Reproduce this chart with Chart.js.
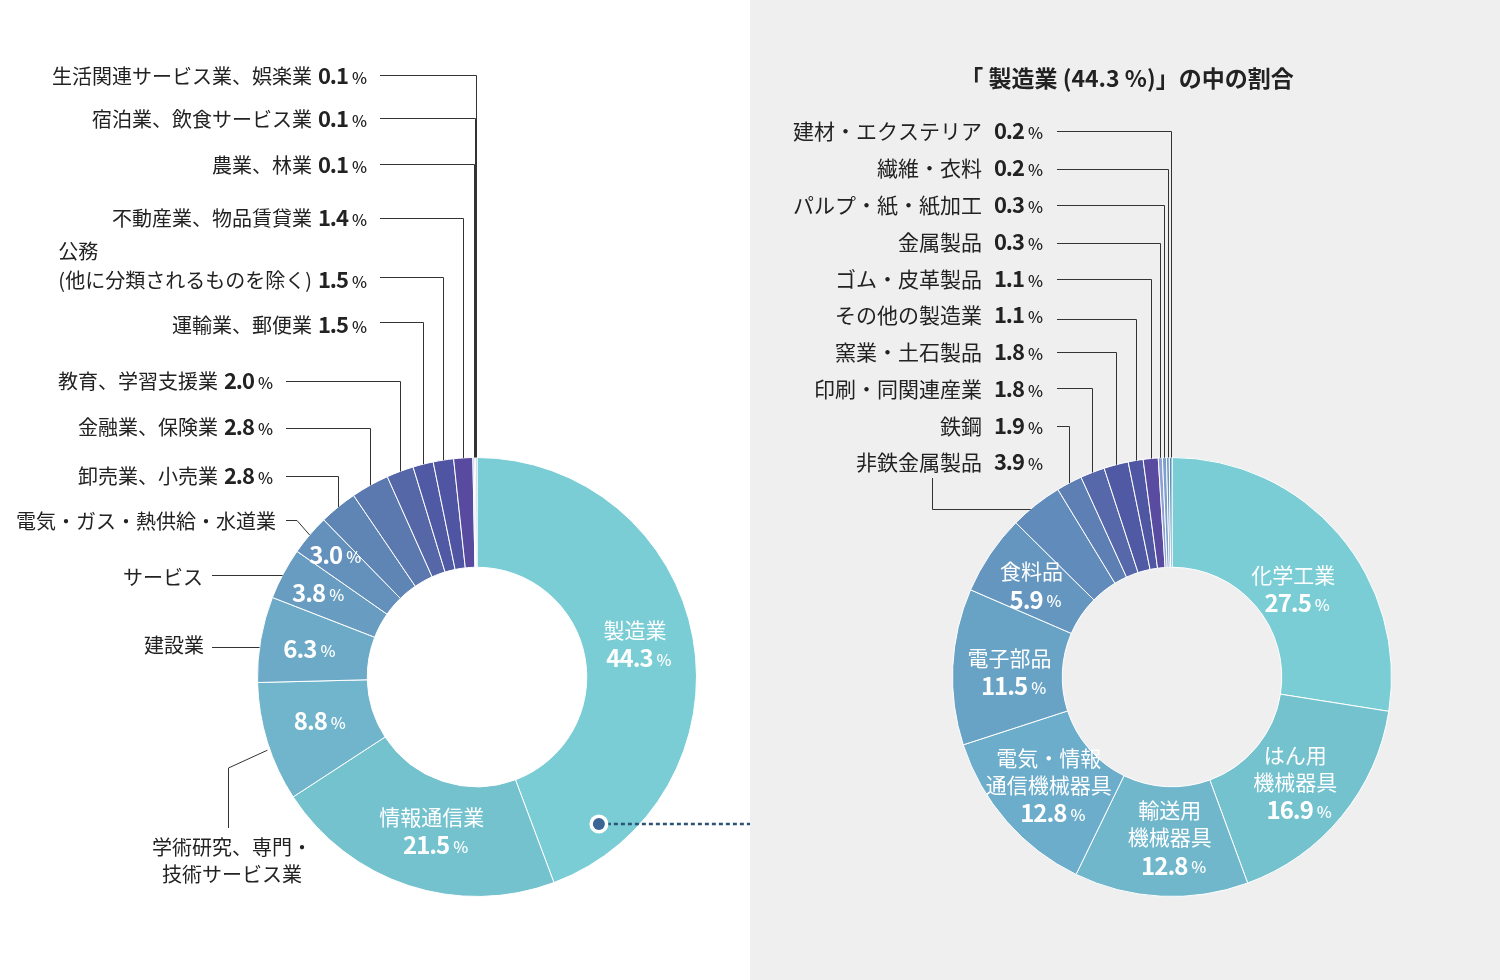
<!DOCTYPE html>
<html>
<head>
<meta charset="utf-8">
<script src="https://cdn.jsdelivr.net/npm/chart.js@4"></script>
<style>
  body { margin: 0; background: #fff; }
  #wrap { display: flex; width: 1500px; height: 980px; }
  #leftChart { background: #fff; }
  #rightChart { background: #efefef; }
</style>
</head>
<body>
<div id="wrap">
  <canvas id="leftChart" width="750" height="980"></canvas>
  <canvas id="rightChart" width="750" height="980"></canvas>
</div>
<script>
// left donut: all industries (clockwise from 12 o'clock)
const leftCategories = [
    '製造業', '情報通信業', '学術研究、専門・\n技術サービス業', '建設業', 'サービス',
    '電気・ガス・熱供給・水道業', '卸売業、小売業', '金融業、保険業', '教育、学習支援業',
    '運輸業、郵便業', '公務\n(他に分類されるものを除く)', '不動産業、物品賃貸業',
    '農業、林業', '宿泊業、飲食サービス業', '生活関連サービス業、娯楽業'
];
const leftValues = [44.3, 21.5, 8.8, 6.3, 3.8, 3.0, 2.8, 2.8, 2.0, 1.5, 1.5, 1.4, 0.1, 0.1, 0.1];
const leftColors = [
    '#7acdd5', '#75c2cf', '#70b5cb', '#6caac7', '#689dc1', '#6491bc', '#5f85b5', '#5b79af',
    '#5667a8', '#5059a3', '#4f55a2', '#574a9f', '#8fa4d6', '#9db8da', '#86b4d0'
];

// right donut: breakdown of 製造業
const rightCategories = [
    '化学工業', 'はん用\n機械器具', '輸送用\n機械器具', '電気・情報\n通信機械器具', '電子部品',
    '食料品', '非鉄金属製品', '鉄鋼', '印刷・同関連産業', '窯業・土石製品', 'その他の製造業',
    'ゴム・皮革製品', '金属製品', 'パルプ・紙・紙加工', '繊維・衣料', '建材・エクステリア'
];
const rightValues = [27.5, 16.9, 12.8, 12.8, 11.5, 5.9, 3.9, 1.9, 1.8, 1.8, 1.1, 1.1, 0.3, 0.3, 0.2, 0.2];
const rightColors = [
    '#7acdd5', '#75c2cf', '#70b7cc', '#6badca', '#68a3c6', '#6596c0', '#618bba', '#5d7fb3',
    '#5668a9', '#5059a3', '#4f56a2', '#594b9f', '#8e9fd2', '#7c9fcc', '#6396c2', '#5a8cb8'
];

const rightTitle = '「 製造業 (44.3 %)」の中の割合';

const FONT = '"Noto Sans CJK JP", "Noto Sans", sans-serif';
const INK = '#222';
const LINE = '#333';

// label layout (positions only)
const leftLayout = {
    '製造業': { inside: true, showName: true, dy: -4 },
    '情報通信業': { inside: true, showName: true, dx: 10, dy: -3 },
    '学術研究、専門・\n技術サービス業': { inside: true, dy: -6, outsideName: { x: 232, y: 847, center: true },
        route: 'up', lineX: 228, lineY: 828, bendY: 768, r: 0.5 },
    '建設業': { inside: true, r: 0.55, outsideName: { right: 204, y: 645 }, route: 'h', lineX: 212, lineY: 647 },
    'サービス': { inside: true, r: 0.64, outsideName: { right: 203, y: 577 }, route: 'h', lineX: 212, lineY: 575 },
    '電気・ガス・熱供給・水道業': { inside: true, r: 0.73, dx: 3, outsideName: { right: 276, y: 521 },
        route: 'hd', lineX: 286, lineY: 520, bendX: 297 },
    '卸売業、小売業': { y: 476, vx: 254, route: 'hv', lineX: 286, lineY: 476 },
    '金融業、保険業': { y: 427, vx: 254, route: 'hv', lineX: 286, lineY: 428 },
    '教育、学習支援業': { y: 381, vx: 254, route: 'hv', lineX: 286, lineY: 381 },
    '運輸業、郵便業': { y: 325, vx: 348, route: 'hv', lineX: 380, lineY: 322 },
    '公務\n(他に分類されるものを除く)': { y: 280, vx: 348, route: 'hv', lineX: 380, lineY: 277 },
    '不動産業、物品賃貸業': { y: 218, vx: 348, route: 'hv', lineX: 380, lineY: 218 },
    '農業、林業': { y: 165, vx: 348, route: 'hv', lineX: 380, lineY: 164 },
    '宿泊業、飲食サービス業': { y: 119, vx: 348, route: 'hv', lineX: 380, lineY: 118 },
    '生活関連サービス業、娯楽業': { y: 76, vx: 348, route: 'hv', lineX: 380, lineY: 75 }
};

const rightLayout = {
    '化学工業': { inside: true, showName: true, dy: 18 },
    'はん用\n機械器具': { inside: true, showName: true },
    '輸送用\n機械器具': { inside: true, showName: true, dx: 10, dy: -4 },
    '電気・情報\n通信機械器具': { inside: true, showName: true, dx: 5 },
    '電子部品': { inside: true, showName: true, dx: 6, dy: 2 },
    '食料品': { inside: true, showName: true },
    '非鉄金属製品': { y: 462, vx: 1024 - 750, route: 'vh', lineX: 932 - 750, lineY: 478, bendY: 509 },
    '鉄鋼': { y: 426, vx: 274, route: 'hv', lineX: 307, lineY: 426 },
    '印刷・同関連産業': { y: 389, vx: 274, route: 'hv', lineX: 307, lineY: 388 },
    '窯業・土石製品': { y: 352, vx: 274, route: 'hv', lineX: 307, lineY: 352 },
    'その他の製造業': { y: 315, vx: 274, route: 'hv', lineX: 307, lineY: 319 },
    'ゴム・皮革製品': { y: 279, vx: 274, route: 'hv', lineX: 307, lineY: 279 },
    '金属製品': { y: 242, vx: 274, route: 'hv', lineX: 307, lineY: 243 },
    'パルプ・紙・紙加工': { y: 205, vx: 274, route: 'hv', lineX: 307, lineY: 205 },
    '繊維・衣料': { y: 168, vx: 274, route: 'hv', lineX: 307, lineY: 169 },
    '建材・エクステリア': { y: 131, vx: 274, route: 'hv', lineX: 307, lineY: 131 }
};

function arcPoint(arc, frac, rFrac) {
    const a = arc.startAngle + (arc.endAngle - arc.startAngle) * frac;
    const r = arc.innerRadius + (arc.outerRadius - arc.innerRadius) * rFrac;
    return { x: arc.x + r * Math.cos(a), y: arc.y + r * Math.sin(a) };
}

function circleXAtY(arc, y) {
    const R = arc.outerRadius;
    return arc.x - Math.sqrt(Math.max(R * R - (y - arc.y) * (y - arc.y), 0));
}

function fmt(v) { return v.toFixed(1); }

// value "12.3" bold + small "%"; anchor: 'right' => number ends at x, 'center' => whole block centered
function drawValue(ctx, x, y, value, color, size, pctSize, anchor) {
    const num = fmt(value);
    ctx.letterSpacing = '-1px';
    ctx.font = `bold ${size}px ${FONT}`;
    const nw = ctx.measureText(num).width;
    ctx.letterSpacing = '0px';
    ctx.font = `500 ${pctSize}px ${FONT}`;
    const pw = ctx.measureText('%').width;
    const gap = 4;
    let left = anchor === 'center' ? x - (nw + gap + pw) / 2 : x - nw;
    ctx.fillStyle = color;
    ctx.textAlign = 'left';
    ctx.textBaseline = 'middle';
    ctx.letterSpacing = '-1px';
    ctx.font = `bold ${size}px ${FONT}`;
    ctx.fillText(num, left, y);
    ctx.letterSpacing = '0px';
    ctx.font = `500 ${pctSize}px ${FONT}`;
    ctx.fillText('%', left + nw + gap, y + 2);
    return left;
}

function drawLeader(ctx, arc, spec) {
    ctx.save();
    ctx.strokeStyle = LINE;
    ctx.lineWidth = 1;
    ctx.beginPath();
    const mid = arcPoint(arc, 0.5, 1);
    if (spec.route === 'hv') {
        ctx.moveTo(spec.lineX, spec.lineY + 0.5);
        ctx.lineTo(Math.round(mid.x) + 0.5, spec.lineY + 0.5);
        ctx.lineTo(Math.round(mid.x) + 0.5, mid.y);
    } else if (spec.route === 'h') {
        ctx.moveTo(spec.lineX, spec.lineY + 0.5);
        ctx.lineTo(circleXAtY(arc, spec.lineY), spec.lineY + 0.5);
    } else if (spec.route === 'hd') {
        ctx.moveTo(spec.lineX, spec.lineY + 0.5);
        ctx.lineTo(spec.bendX, spec.lineY + 0.5);
        ctx.lineTo(mid.x, mid.y);
    } else if (spec.route === 'vh') {
        ctx.moveTo(spec.lineX + 0.5, spec.lineY);
        ctx.lineTo(spec.lineX + 0.5, spec.bendY + 0.5);
        ctx.lineTo(circleXAtY(arc, spec.bendY), spec.bendY + 0.5);
    } else if (spec.route === 'up') {
        ctx.moveTo(spec.lineX + 0.5, spec.lineY);
        ctx.lineTo(spec.lineX + 0.5, spec.bendY);
        ctx.lineTo(mid.x, mid.y + 8);
    }
    ctx.stroke();
    ctx.restore();
}

function makeLabelPlugin(categories, values, layout, opts) {
    return {
        id: 'sliceLabels',
        afterDraw(chart) {
            const ctx = chart.ctx;
            const arcs = chart.getDatasetMeta(0).data;
            ctx.save();
            categories.forEach((cat, i) => {
                const spec = layout[cat];
                const arc = arcs[i];
                if (!spec) return;
                const lines = cat.split('\n');
                if (spec.inside) {
                    const p = arcPoint(arc, 0.5, spec.r !== undefined ? spec.r : 0.5);
                    const cx = p.x + (spec.dx || 0);
                    const cy = p.y + (spec.dy || 0);
                    const rows = spec.showName ? lines.length + 1 : 1;
                    const lh = 27;
                    let y = cy - (rows - 1) * lh / 2;
                    if (spec.showName) {
                        ctx.fillStyle = '#fff';
                        ctx.font = `400 21px ${FONT}`;
                        ctx.textAlign = 'center';
                        ctx.textBaseline = 'middle';
                        lines.forEach(l => { ctx.fillText(l, cx - 4, y); y += lh; });
                    }
                    drawValue(ctx, cx, y + 1, values[i], '#fff', 24, 16, 'center');
                }
                if (spec.outsideName) {
                    const o = spec.outsideName;
                    ctx.fillStyle = INK;
                    ctx.font = `400 20px ${FONT}`;
                    ctx.textBaseline = 'middle';
                    ctx.textAlign = o.center ? 'center' : 'right';
                    lines.forEach((l, k) => ctx.fillText(l, o.center ? o.x : o.right, o.y + k * 27));
                }
                if (spec.vx !== undefined) {
                    const left = drawValue(ctx, spec.vx, spec.y, values[i], INK, 22, 16, 'right');
                    ctx.fillStyle = INK;
                    ctx.font = `400 ${opts.nameSize}px ${FONT}`;
                    ctx.textBaseline = 'middle';
                    const nameRight = left - opts.nameGap;
                    const last = lines[lines.length - 1];
                    ctx.textAlign = 'right';
                    ctx.fillText(last, nameRight, spec.y);
                    if (lines.length > 1) {
                        const lw = ctx.measureText(last).width;
                        ctx.textAlign = 'left';
                        ctx.fillText(lines[0], nameRight - lw, spec.y - 29);
                    }
                }
                if (spec.route) drawLeader(ctx, arc, spec);
            });
            if (opts.after) opts.after(chart, arcs);
            ctx.restore();
        }
    };
}

function baseOptions(padding) {
    return {
        responsive: false,
        devicePixelRatio: 1,
        animation: false,
        events: [],
        cutout: '50%',
        rotation: 0,
        layout: { padding: padding },
        plugins: { legend: { display: false }, tooltip: { enabled: false } }
    };
}

// left chart: the connector dot inside 製造業 and dotted line towards the right panel
const leftPlugin = makeLabelPlugin(leftCategories, leftValues, leftLayout, {
    nameSize: 20, nameGap: 6,
    after(chart, arcs) {
        const ctx = chart.ctx;
        const p = arcPoint(arcs[0], 0.88, 0.74);
        ctx.save();
        ctx.strokeStyle = '#2b5478';
        ctx.lineWidth = 2.5;
        ctx.setLineDash([4, 3]);
        ctx.beginPath();
        ctx.moveTo(p.x + 8, p.y);
        ctx.lineTo(chart.width, p.y);
        ctx.stroke();
        ctx.setLineDash([]);
        ctx.beginPath();
        ctx.arc(p.x, p.y, 9.5, 0, Math.PI * 2);
        ctx.fillStyle = '#fff';
        ctx.fill();
        ctx.beginPath();
        ctx.arc(p.x, p.y, 6, 0, Math.PI * 2);
        ctx.fillStyle = '#3a6594';
        ctx.fill();
        ctx.restore();
    }
});

const rightPlugin = makeLabelPlugin(rightCategories, rightValues, rightLayout, {
    nameSize: 21, nameGap: 12,
    after(chart) {
        const ctx = chart.ctx;
        ctx.save();
        ctx.fillStyle = INK;
        ctx.font = `bold 23px ${FONT}`;
        ctx.textAlign = 'center';
        ctx.textBaseline = 'middle';
        ctx.fillText(rightTitle, 377, 78);
        ctx.restore();
    }
});

new Chart(document.getElementById('leftChart').getContext('2d'), {
    type: 'doughnut',
    data: {
        labels: leftCategories,
        datasets: [{
            data: leftValues,
            backgroundColor: leftColors,
            borderColor: '#ffffff',
            borderWidth: 1
        }]
    },
    options: baseOptions({ left: 257, right: 53, top: 457, bottom: 83 }),
    plugins: [leftPlugin]
});

new Chart(document.getElementById('rightChart').getContext('2d'), {
    type: 'doughnut',
    data: {
        labels: rightCategories,
        datasets: [{
            data: rightValues,
            backgroundColor: rightColors,
            borderColor: '#ffffff',
            borderWidth: 1
        }]
    },
    options: baseOptions({ left: 202, right: 108, top: 457, bottom: 83 }),
    plugins: [rightPlugin]
});
</script>
</body>
</html>
